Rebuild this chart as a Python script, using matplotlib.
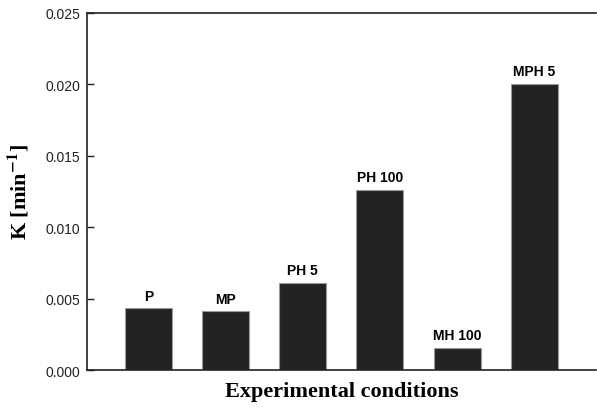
"""Rate constant K for each experimental condition (bar chart)."""

import matplotlib
matplotlib.use("Agg")
import matplotlib.pyplot as plt

conditions = ["P", "MP", "PH 5", "PH 100", "MH 100", "MPH 5"]
k_values = [0.00432, 0.00411, 0.00609, 0.01263, 0.00156, 0.02003]
y_ticks = [0.000, 0.005, 0.010, 0.015, 0.020, 0.025]

plt.rcParams["mathtext.fontset"] = "stix"

fig = plt.figure(figsize=(5.97, 4.10), dpi=100)
ax = fig.add_axes([0.1457, 0.0951, 0.8523, 0.8708])

positions = list(range(1, len(conditions) + 1))
bars = ax.bar(positions, k_values, width=0.61, color="#232323",
              edgecolor="#9a9a9a", linewidth=0.8)

for x, v, name in zip(positions, k_values, conditions):
    ax.annotate(name, (x, v), xytext=(0, 4), textcoords="offset points",
                ha="center", va="bottom", fontsize=10, fontweight="bold",
                family="Liberation Sans")

ax.set_xlim(0.2, 6.8)
ax.set_ylim(0, 0.025)
ax.set_yticks(y_ticks)
ax.set_yticklabels([f"{t:.3f}" for t in y_ticks], family="Liberation Sans",
                   fontsize=10)
ax.set_xticks([])
ax.tick_params(axis="y", direction="in", length=5, width=1, pad=5,
               colors="#222222")

ax.spines["right"].set_visible(False)
for side in ("left", "top", "bottom"):
    ax.spines[side].set_linewidth(1.2)
    ax.spines[side].set_color("#222222")

ax.set_xlabel("Experimental conditions", family="Liberation Serif",
              fontweight="bold", fontsize=16, labelpad=8)
ax.set_ylabel(r"K [min$^{\mathbf{-1}}$]", family="Liberation Serif",
              fontweight="bold", fontsize=16, labelpad=10)

fig.savefig("out.png", dpi=100)
